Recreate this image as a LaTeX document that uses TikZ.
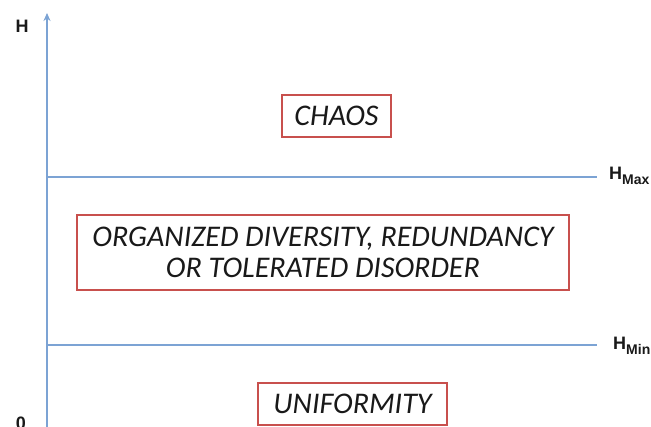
\documentclass[tikz,border=0pt]{standalone}
\usepackage{fontspec}
\setmainfont{Carlito}
\newfontfamily\labfont{Liberation Sans}
\usetikzlibrary{arrows.meta}
\definecolor{axisblue}{RGB}{124,163,212}
\definecolor{boxred}{RGB}{200,80,77}
\tikzset{
  region/.style={draw=boxred, line width=1.6pt, fill=white, font=\fontsize{30}{31}\selectfont\itshape, text=black!90, align=center, inner sep=0pt},
  level/.style={draw=axisblue, line width=1.3pt},
  axislab/.style={font=\labfont\bfseries\fontsize{18}{20}\selectfont, text=black!90, inner sep=0pt}
}
\newcommand{\subtag}[1]{\raisebox{-5pt}{\fontsize{14}{15}\selectfont #1}}
\begin{document}
\begin{tikzpicture}[x=1pt,y=-1pt]
\clip (0,0) rectangle (651,426);
\fill[white] (0,0) rectangle (651,426);
% axis
\coordinate (o) at (47,428);
\coordinate (top) at (47,13);
\draw[level, -{Stealth[length=8pt,width=7pt]}] (o) -- (top);
\node[axislab] (hlab) at (22,26) {H};
\node[axislab, anchor=north] (zero) at (21,417) {0};
% levels
\coordinate (maxl) at (47,177);
\coordinate (maxr) at (597,177);
\coordinate (minl) at (47,345);
\coordinate (minr) at (597,345);
\draw[level] (maxl) -- (maxr);
\draw[level] (minl) -- (minr);
\node[axislab, anchor=base west] (hmax) at (609,179) {H\subtag{Max}};
\node[axislab, anchor=base west] (hmin) at (613,349) {H\subtag{Min}};
% regions
\node[region, minimum width=109pt, minimum height=42pt] (chaos) at (336.5,116) {CHAOS};
\node[region, minimum width=492pt, minimum height=75pt] (org) at (323,252.5) {ORGANIZED DIVERSITY, REDUNDANCY\\OR TOLERATED DISORDER};
\node[region, minimum width=189pt, minimum height=42pt] (unif) at (352.5,404) {UNIFORMITY};
\end{tikzpicture}
\end{document}
